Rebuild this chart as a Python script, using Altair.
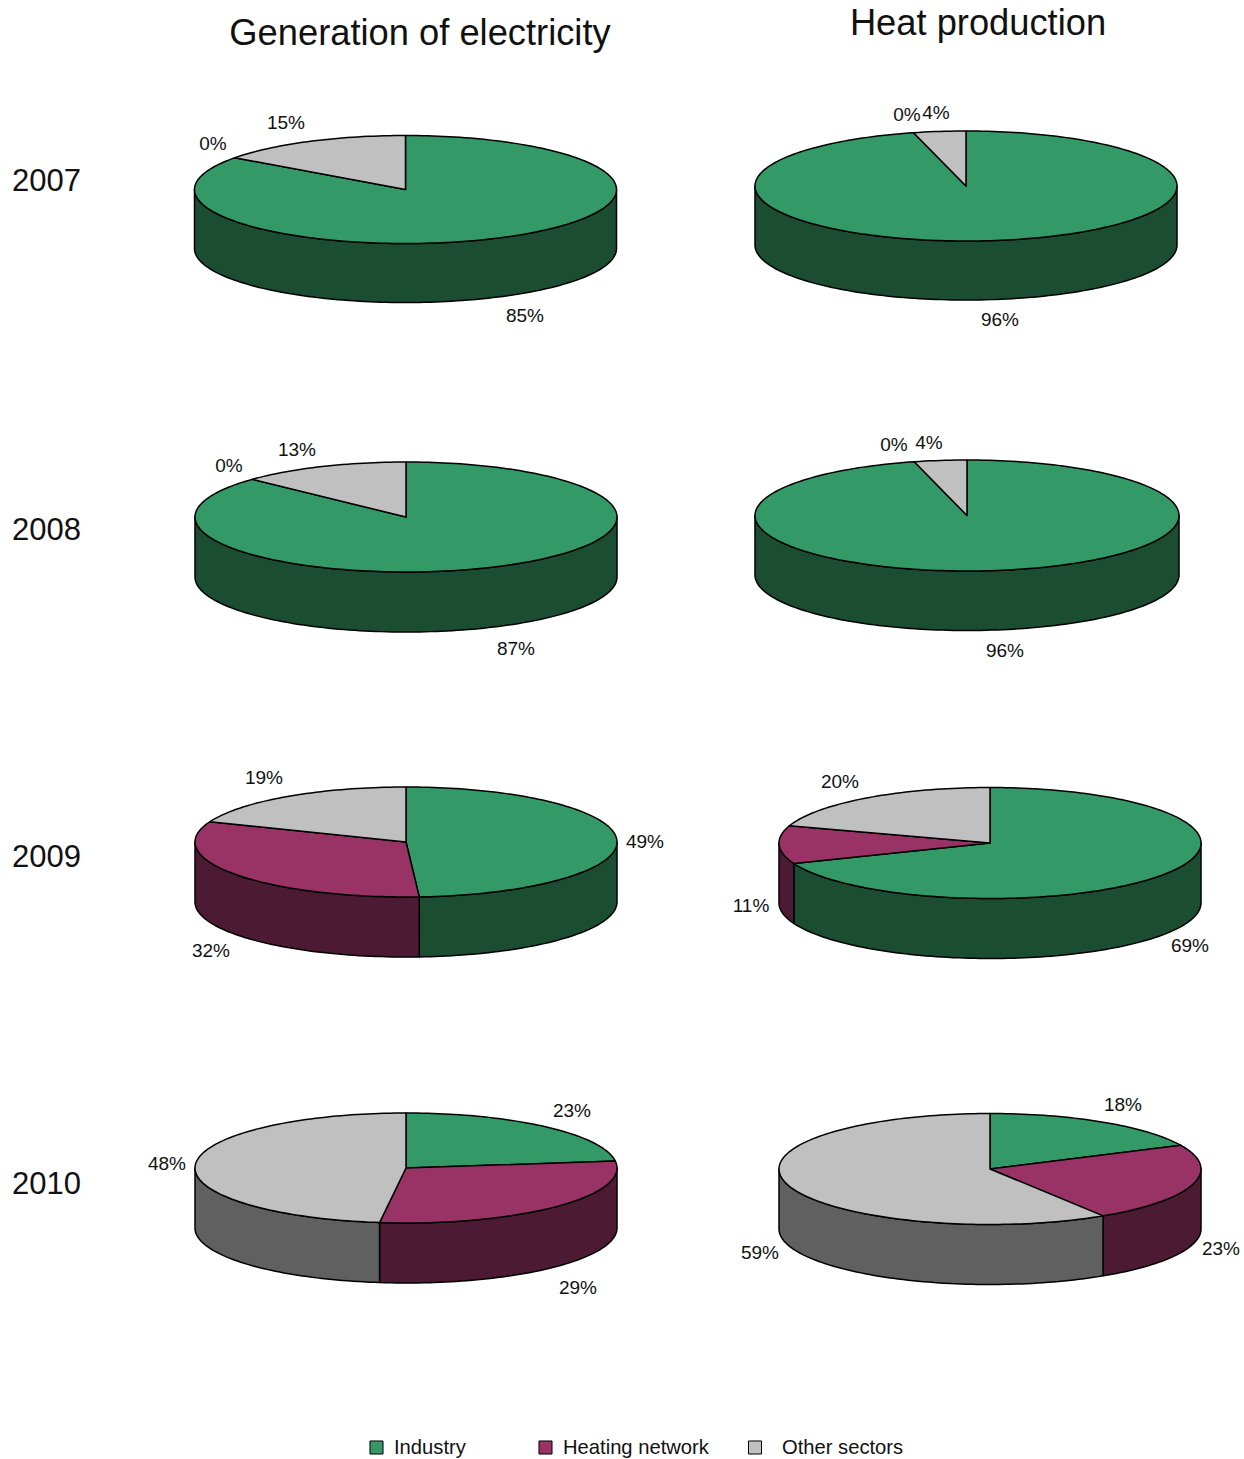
import math
import altair as alt

# Shares in percent, one list per sector, ordered 2007-2010.
years = ["2007", "2008", "2009", "2010"]
sectors = ["Industry", "Heating network", "Other sectors"]
electricity_industry = [85, 87, 49, 23]
electricity_heating = [0, 0, 32, 29]
electricity_other = [15, 13, 19, 48]
heat_industry = [96, 96, 69, 18]
heat_heating = [0, 0, 11, 23]
heat_other = [4, 4, 20, 59]

column_titles = ["Generation of electricity", "Heat production"]

# Pie geometry: centre x, centre y, x radius, y radius, rim depth.
electricity_layout = [(405.5, 189.5, 211, 54, 59), (406, 517, 211, 55, 60),
                      (406, 842, 211, 55, 60), (406, 1168, 211, 55, 60)]
heat_layout = [(966, 186, 211, 55, 59), (967, 515.5, 212, 55.5, 59.5),
               (990, 843, 211, 55.5, 60), (990, 1169, 211, 55.5, 60)]

# Where each sector's percentage label sits, by pie.
electricity_label_xy = [
    [(525, 316), (213, 144), (286, 123)],
    [(516, 649), (229, 466), (297, 450)],
    [(645, 842), (211, 951), (264, 778)],
    [(572, 1111), (578, 1288), (167, 1164)],
]
heat_label_xy = [
    [(1000, 320), (907, 115), (936, 113)],
    [(1005, 651), (894, 445), (929, 443)],
    [(1190, 946), (751, 906), (840, 782)],
    [(1123, 1105), (1221, 1249), (760, 1253)],
]

top_colors = ["#339966", "#993366", "#c0c0c0"]
side_colors = ["#1b4d33", "#4d1a33", "#606060"]


def rim_point(pie, degrees, drop=0.0):
    cx, cy, rx, ry, _ = pie
    t = math.radians(degrees)
    return [cx + rx * math.sin(t), cy - ry * math.cos(t) + drop]


def arc(pie, start, end, drop=0.0):
    steps = max(2, int(abs(end - start) / 1.5) + 1)
    return [rim_point(pie, start + (end - start) * i / steps, drop) for i in range(steps + 1)]


def feature(ring, tone):
    return {"type": "Feature", "properties": {"tone": tone},
            "geometry": {"type": "Polygon", "coordinates": [ring + [ring[0]]]}}


def pie_features(pie, shares):
    sides, tops = [], []
    start = 0.0
    for sector, share in zip(sectors, shares):
        end = start + share * 3.6
        if share > 0:
            wedge = [[pie[0], pie[1]]] + arc(pie, start, end)
            tops.append(feature(wedge, sector))
            # Only the front half of the rim (90-270 degrees) faces the viewer.
            low, high = max(start, 90.0), min(end, 270.0)
            if high > low:
                band = arc(pie, low, high) + arc(pie, high, low, pie[4])
                sides.append(feature(band, sector + " side"))
        start = end
    return sides, tops


side_features, top_features, labels = [], [], []
columns = [
    (electricity_layout, electricity_label_xy, electricity_industry, electricity_heating, electricity_other),
    (heat_layout, heat_label_xy, heat_industry, heat_heating, heat_other),
]
for layout, label_xy, industry, heating, other in columns:
    for i in range(len(years)):
        shares = [industry[i], heating[i], other[i]]
        sides, tops = pie_features(layout[i], shares)
        side_features += sides
        top_features += tops
        for share, (x, y) in zip(shares, label_xy[i]):
            labels.append({"x": x, "y": y, "text": f"{share}%"})

projection = dict(type="identity", scale=1, translate=[0, 0])
tone_scale = alt.Scale(
    domain=sectors + [s + " side" for s in sectors],
    range=top_colors + side_colors,
)


def shapes(features):
    return (
        alt.Chart(alt.Data(values=features))
        .mark_geoshape(stroke="#000000", strokeWidth=1.5, strokeJoin="round")
        .encode(fill=alt.Fill("properties.tone:N", scale=tone_scale, legend=None))
        .project(**projection)
    )


def texts(rows, size, align="center"):
    return (
        alt.Chart(alt.Data(values=rows))
        .mark_text(font="Liberation Sans", fontSize=size, align=align, baseline="middle", color="#111111")
        .encode(longitude="x:Q", latitude="y:Q", text="text:N")
        .project(**projection)
    )


title_rows = [{"x": 420, "y": 34, "text": column_titles[0]},
              {"x": 978, "y": 24, "text": column_titles[1]}]
year_rows = [{"x": 12, "y": y, "text": t} for t, y in zip(years, [182, 531, 858, 1185])]

legend_marks = [{"x": 376.5, "y": 1447.5, "tone": sectors[0]},
                {"x": 545.5, "y": 1447.5, "tone": sectors[1]},
                {"x": 755, "y": 1447.5, "tone": sectors[2]}]
legend_rows = [{"x": 394, "y": 1448, "text": sectors[0]},
               {"x": 563, "y": 1448, "text": sectors[1]},
               {"x": 782, "y": 1448, "text": sectors[2]}]

legend_squares = (
    alt.Chart(alt.Data(values=legend_marks))
    .mark_square(size=170, opacity=1, stroke="#000000", strokeWidth=1)
    .encode(longitude="x:Q", latitude="y:Q",
            fill=alt.Fill("tone:N", scale=tone_scale, legend=None))
    .project(**projection)
)

chart = (
    alt.layer(
        shapes(side_features),
        shapes(top_features),
        texts(labels, 19),
        texts(title_rows, 36.3),
        texts(year_rows, 31, "left"),
        legend_squares,
        texts(legend_rows, 20.2, "left"),
    )
    .properties(width=1244, height=1459, padding=0, background="#ffffff",
                autosize=alt.AutoSizeParams(type="none"))
    .configure_view(stroke=None)
)

chart.save("out.html", embed_options={"renderer": "svg", "actions": False})
